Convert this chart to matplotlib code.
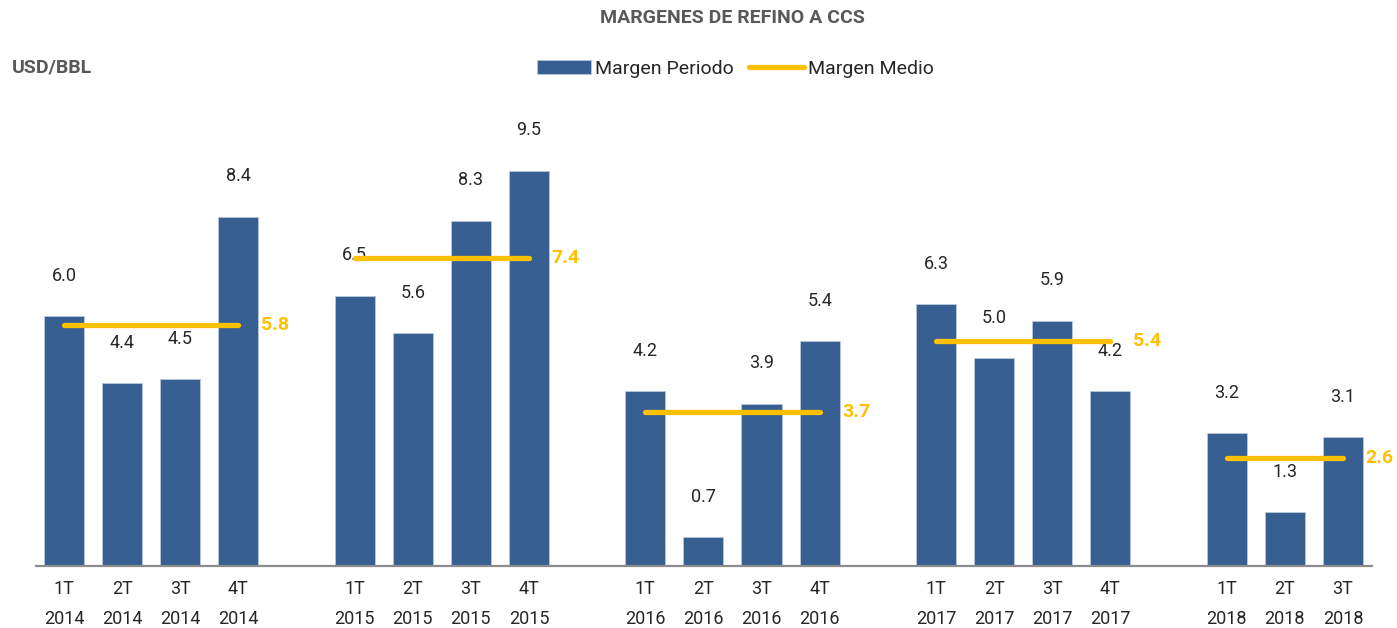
import matplotlib.pyplot as plt
import numpy as np

# data
quarters = ["1T", "2T", "3T", "4T"]
years = ["2014", "2015", "2016", "2017", "2018"]
margen_periodo = [
    [6.0, 4.4, 4.5, 8.4],
    [6.5, 5.6, 8.3, 9.5],
    [4.2, 0.7, 3.9, 5.4],
    [6.3, 5.0, 5.9, 4.2],
    [3.2, 1.3, 3.1],
]
margen_medio = [5.8, 7.4, 3.7, 5.4, 2.6]

plt.rcParams['font.family'] = ['Roboto', 'DejaVu Sans']

bar_color = "#375f91"
avg_color = "#ffc000"
text_color = "#262626"

fig = plt.figure(figsize=(13.97, 6.28), dpi=100)
ax = fig.add_axes([36/1397, 62/628, (1372-36)/1397, (566-120)/628])

pos = 0
xs_all, labels_all = [], []
bar_h = line_h = None
for yi, year in enumerate(years):
    vals = margen_periodo[yi]
    xs = np.arange(pos, pos + len(vals))
    b = ax.bar(xs, vals, width=0.69, color=bar_color, edgecolor="#b8c8dc", linewidth=0.6, zorder=2)
    for x, v in zip(xs, vals):
        ax.annotate(f"{v:.1f}", (x, v), xytext=(0, 29), textcoords="offset points",
                    ha="center", va="center", fontsize=13, color=text_color)
    ln, = ax.plot([xs[0], xs[-1]], [margen_medio[yi]] * 2, color=avg_color, lw=3.8,
                  solid_capstyle="round", zorder=3)
    ax.annotate(f"{margen_medio[yi]:.1f}", (xs[-1], margen_medio[yi]), xytext=(16, 0),
                textcoords="offset points", ha="left", va="center", fontsize=14,
                fontweight="bold", color=avg_color)
    if yi == 0:
        bar_h, line_h = b, ln
    xs_all += list(xs)
    labels_all += [f"{q}\n{year}" for q in quarters[:len(vals)]]
    pos += len(vals) + 1

ax.set_xticks(xs_all)
ax.set_xticklabels(labels_all, fontsize=13, color=text_color, linespacing=1.85)
ax.tick_params(axis="x", length=0, pad=10)
ax.set_yticks([])
ax.set_xlim(-0.48, 22.5)
ax.set_ylim(0, 10.72)
for s in ["top", "right", "left"]:
    ax.spines[s].set_visible(False)
ax.spines["bottom"].set_color("#8c8c8c")
ax.spines["bottom"].set_linewidth(1.6)

fig.text(732/1397, 1 - 18/628, "MARGENES DE REFINO A CCS", ha="center", va="center",
         fontsize=14, fontweight="bold", color="#595959")
fig.text(12/1397, 1 - 67/628, "USD/BBL", ha="left", va="center",
         fontsize=14, fontweight="bold", color="#595959")

fig.legend([bar_h, line_h], ["Margen Periodo", "Margen Medio"], loc="center",
           bbox_to_anchor=(735/1397, 1 - 69/628), ncol=2, frameon=False,
           fontsize=14, handlelength=2.8, handletextpad=0.2, columnspacing=0.8,
           labelcolor=text_color)

fig.savefig("out.png", dpi=100)
